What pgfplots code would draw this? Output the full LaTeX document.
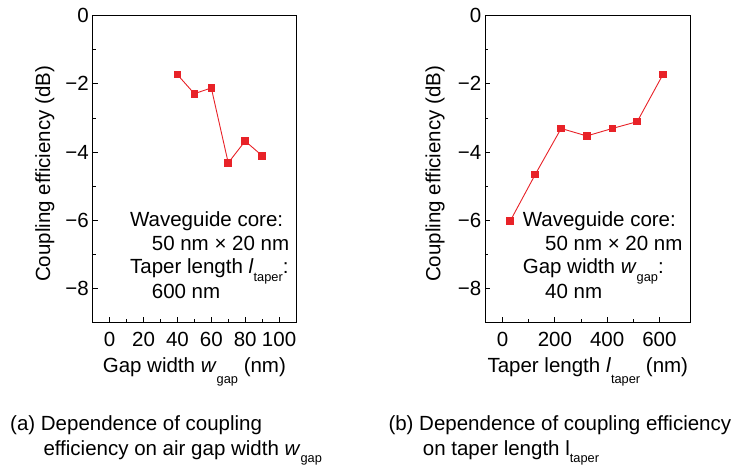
\documentclass[border=0pt]{standalone}
\usepackage{fontspec}
\setmainfont{Liberation Sans}
\usepackage{pgfplots}
\pgfplotsset{compat=1.18}

\definecolor{plotred}{RGB}{232,34,40}
% lowered small subscript, as in the figure
\newcommand{\sub}[2][11pt]{\raisebox{-#1}{\fontsize{12.8}{13}\selectfont #2}}

\tikzset{
  note/.style={anchor=base west, inner sep=0pt},
  series/.style={color=plotred, line width=0.9pt, mark=square*, mark size=3.3pt,
    mark options={solid, fill=plotred, draw=plotred}},
}

\pgfplotsset{
  panel/.style={
    scale only axis,
    height=306.6pt,
    ymin=-9, ymax=0,
    ytick={-8,-6,-4,-2,0},
    yticklabels={−8,−6,−4,−2,0},
    minor y tick num=1,
    minor x tick num=1,
    tick align=inside,
    xtick pos=bottom, ytick pos=left,
    major tick length=5pt, minor tick length=3pt,
    axis line style={line width=0.9pt},
    every tick/.style={black, line width=0.8pt},
    /pgf/number format/assume math mode=true,
    xticklabel style={yshift=-3pt},
    yticklabel style={xshift=3pt},
    xlabel style={at={(axis description cs:0.5,-0.165)}, anchor=base},
    ylabel style={anchor=center},
  },
}

\begin{document}
\fontsize{20.5}{24}\selectfont
\begin{tikzpicture}
\useasboundingbox (0,0) rectangle (737pt,465pt);

% (a) gap width
\begin{axis}[panel,
    at={(92.7pt,142.7pt)}, anchor=south west,
    width=203.3pt,
    xmin=-10, xmax=110,
    xtick={0,20,40,60,80,100},
    xlabel={Gap width \textit{w}\sub{gap} (nm)},
    ylabel={Coupling efficiency (dB)},
    ylabel style={at={(axis description cs:-0.235,0.484)}},
]
\addplot[series] coordinates {(40,-1.73) (50,-2.29) (60,-2.12) (70,-4.32) (80,-3.68) (90,-4.11)};
\node[note] at (rel axis cs:0.183,0.312) {Waveguide core:};
\node[note] at (rel axis cs:0.290,0.234) {50 nm × 20 nm};
\node[note] at (rel axis cs:0.183,0.158) {Taper length \textit{l}\sub[8pt]{taper}:};
\node[note] at (rel axis cs:0.290,0.076) {600 nm};
\end{axis}

% (b) taper length
\begin{axis}[panel,
    at={(485.3pt,142.7pt)}, anchor=south west,
    width=205pt,
    xmin=-66, xmax=718,
    xtick={0,200,400,600},
    xlabel={Taper length \textit{l}\sub{taper} (nm)},
    ylabel={Coupling efficiency (dB)},
    ylabel style={at={(axis description cs:-0.245,0.484)}},
]
\addplot[series] coordinates {(29,-6.03) (125,-4.66) (224,-3.31) (322,-3.53) (420,-3.31) (515,-3.11) (613,-1.73)};
\node[note] at (rel axis cs:0.182,0.312) {Waveguide core:};
\node[note] at (rel axis cs:0.291,0.234) {50 nm × 20 nm};
\node[note] at (rel axis cs:0.182,0.158) {Gap width \textit{w}\sub[8pt]{gap}:};
\node[note] at (rel axis cs:0.291,0.076) {40 nm};
\end{axis}

% captions
\node[note] at (10pt,34pt) {(a) Dependence of coupling};
\node[note] at (43.3pt,9pt) {efficiency on air gap width \textit{w}\sub[7pt]{gap}};
\node[note] at (388.3pt,34pt) {(b) Dependence of coupling efficiency};
\node[note] at (422.7pt,9pt) {on taper length l\sub[7pt]{taper}};
\end{tikzpicture}
\end{document}
